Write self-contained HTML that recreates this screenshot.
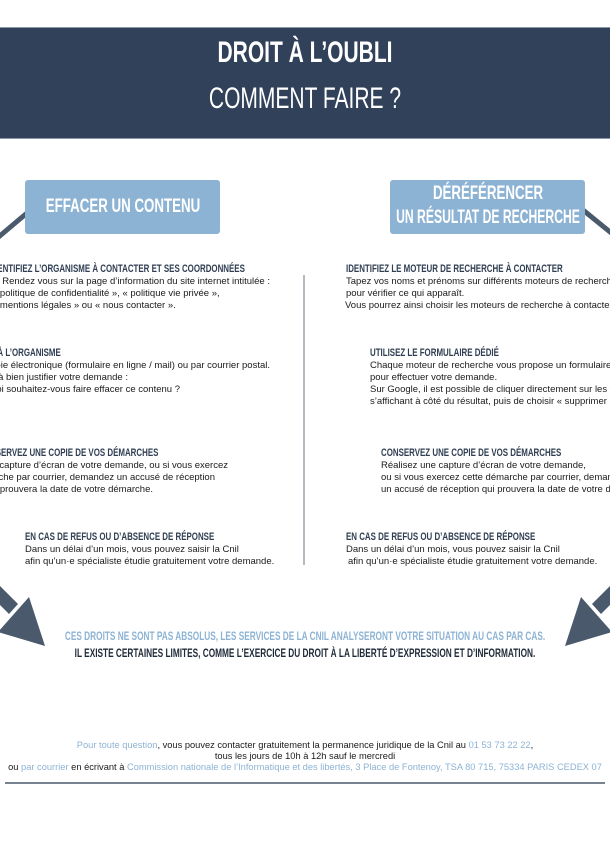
<!DOCTYPE html>
<html><head><meta charset="utf-8">
<style>
body{margin:0;width:610px;height:850px;overflow:hidden;background:#fff;position:relative;font-family:"Liberation Sans",sans-serif;}
.a{position:absolute;white-space:nowrap;}
.h{font-family:"Liberation Sans Narrow","Liberation Sans",sans-serif;font-weight:bold;font-size:11px;color:#2f3e52;transform:scaleX(0.72);}
.hl{transform-origin:left center}
.hr{transform-origin:right center}
.t{font-size:9.5px;color:#1a1a1a;line-height:12px;}
.box{position:absolute;background:#8db3d4;border-radius:3px;color:#fff;font-family:"Liberation Sans Narrow","Liberation Sans",sans-serif;font-weight:bold;white-space:nowrap;}
.cx{position:absolute;left:50%;white-space:nowrap;transform:translateX(-50%) scaleX(0.7);}
.blue{color:#8db3d4}
.ct{position:absolute;left:305px;white-space:nowrap;transform:translateX(-50%);}
</style></head><body>
<div style="position:absolute;left:0;top:27px;width:610px;height:110px;background:#31415a;border-top:1px solid #8a96a6;border-bottom:1px solid #8a96a6;"></div>
<div class="ct" style="top:36px;color:#fff;font-family:'Liberation Sans Narrow','Liberation Sans',sans-serif;font-weight:bold;font-size:30px;transform:translateX(-50%) scaleX(0.7)">DROIT À L’OUBLI</div>
<div class="ct" style="top:82px;color:#fff;font-family:'Liberation Sans Narrow','Liberation Sans',sans-serif;font-size:30px;transform:translateX(-50%) scaleX(0.7)">COMMENT FAIRE ?</div>

<svg style="position:absolute;left:0;top:0" width="610" height="850">
<line x1="27" y1="213" x2="-5" y2="240" stroke="#4a5a6c" stroke-width="5"/>
<line x1="583" y1="210" x2="615" y2="236" stroke="#4a5a6c" stroke-width="5"/>
<line x1="304" y1="275" x2="304" y2="565" stroke="#6b7685" stroke-width="1"/>
<polygon points="-10,595 0,586 18,604 9,614" fill="#4a5a6c"/>
<polygon points="29,597 45,646 -2,632" fill="#4a5a6c"/>
<polygon points="620,595 610,586 592,604 601,614" fill="#4a5a6c"/>
<polygon points="581,597 565,646 612,632" fill="#4a5a6c"/>
<line x1="5" y1="783" x2="605" y2="783" stroke="#4a5a6c" stroke-width="1.5"/>
</svg>

<div class="box" style="left:25px;top:180px;width:195px;height:54px;font-size:19px;"><div class="cx" style="top:16px">EFFACER UN CONTENU</div></div>
<div class="box" style="left:390px;top:180px;width:195px;height:54px;font-size:19px;"><div class="cx" style="top:3px">DÉRÉFÉRENCER</div><div class="cx" style="top:27px;transform:translateX(-50%) scaleX(0.64)">UN RÉSULTAT DE RECHERCHE</div></div>

<!-- left column -->
<div class="a h hr" style="right:365px;top:263px">IDENTIFIEZ L’ORGANISME À CONTACTER ET SES COORDONNÉES</div>
<div class="a t" style="right:340px;top:276px">Rendez vous sur la page d’information du site internet intitulée :</div>
<div class="a t" style="left:-8px;top:288px">« politique de confidentialité », « politique vie privée »,</div>
<div class="a t" style="left:-8px;top:300px">« mentions légales » ou « nous contacter ».</div>

<div class="a h hr" style="right:549px;top:347px">ADRESSEZ-VOUS À L’ORGANISME</div>
<div class="a t" style="right:340px;top:360px">Par voie électronique (formulaire en ligne / mail) ou par courrier postal.</div>
<div class="a t" style="right:482px;top:372px">Pensez à bien justifier votre demande :</div>
<div class="a t" style="right:430px;top:384px">Pourquoi souhaitez-vous faire effacer ce contenu ?</div>

<div class="a h hr" style="right:452px;top:447px">CONSERVEZ UNE COPIE DE VOS DÉMARCHES</div>
<div class="a t" style="right:382px;top:460px">Réalisez une capture d’écran de votre demande, ou si vous exercez</div>
<div class="a t" style="right:395px;top:472px">cette démarche par courrier, demandez un accusé de réception</div>
<div class="a t" style="right:457px;top:484px">qui prouvera la date de votre démarche.</div>

<div class="a h hl" style="left:25px;top:531px">EN CAS DE REFUS OU D’ABSENCE DE RÉPONSE</div>
<div class="a t" style="left:25px;top:544px">Dans un délai d’un mois, vous pouvez saisir la Cnil</div>
<div class="a t" style="left:25px;top:556px">afin qu’un·e spécialiste étudie gratuitement votre demande.</div>

<!-- right column -->
<div class="a h hl" style="left:346px;top:263px">IDENTIFIEZ LE MOTEUR DE RECHERCHE À CONTACTER</div>
<div class="a t" style="left:346px;top:276px">Tapez vos noms et prénoms sur différents moteurs de recherche</div>
<div class="a t" style="left:346px;top:288px">pour vérifier ce qui apparaît.</div>
<div class="a t" style="left:345px;top:300px">Vous pourrez ainsi choisir les moteurs de recherche à contacter.</div>

<div class="a h hl" style="left:370px;top:347px">UTILISEZ LE FORMULAIRE DÉDIÉ</div>
<div class="a t" style="left:370px;top:360px">Chaque moteur de recherche vous propose un formulaire</div>
<div class="a t" style="left:370px;top:372px">pour effectuer votre demande.</div>
<div class="a t" style="left:370px;top:384px">Sur Google, il est possible de cliquer directement sur les trois points</div>
<div class="a t" style="left:370px;top:396px">s’affichant à côté du résultat, puis de choisir « supprimer ».</div>

<div class="a h hl" style="left:381px;top:447px">CONSERVEZ UNE COPIE DE VOS DÉMARCHES</div>
<div class="a t" style="left:381px;top:460px">Réalisez une capture d’écran de votre demande,</div>
<div class="a t" style="left:381px;top:472px">ou si vous exercez cette démarche par courrier, demandez</div>
<div class="a t" style="left:381px;top:484px">un accusé de réception qui prouvera la date de votre démarche.</div>

<div class="a h hl" style="left:346px;top:531px">EN CAS DE REFUS OU D’ABSENCE DE RÉPONSE</div>
<div class="a t" style="left:346px;top:544px">Dans un délai d’un mois, vous pouvez saisir la Cnil</div>
<div class="a t" style="left:348px;top:556px">afin qu’un·e spécialiste étudie gratuitement votre demande.</div>

<!-- bottom -->
<div class="ct" style="top:631px;font-family:'Liberation Sans Narrow','Liberation Sans',sans-serif;font-weight:bold;font-size:11.5px;color:#8db3d4;transform:translateX(-50%) scaleX(0.72)">CES DROITS NE SONT PAS ABSOLUS, LES SERVICES DE LA CNIL ANALYSERONT VOTRE SITUATION AU CAS PAR CAS.</div>
<div class="ct" style="top:648px;font-family:'Liberation Sans Narrow','Liberation Sans',sans-serif;font-weight:bold;font-size:11.5px;color:#1f2a38;transform:translateX(-50%) scaleX(0.72)">IL EXISTE CERTAINES LIMITES, COMME L’EXERCICE DU DROIT À LA LIBERTÉ D’EXPRESSION ET D’INFORMATION.</div>

<div class="ct t" style="top:739px;font-size:9.3px;"><span class="blue">Pour toute question</span>, vous pouvez contacter gratuitement la permanence juridique de la Cnil au <span class="blue">01 53 73 22 22</span>,</div>
<div class="ct t" style="top:750px;font-size:9.3px;">tous les jours de 10h à 12h sauf le mercredi</div>
<div class="ct t" style="top:761px;font-size:9.3px;">ou <span class="blue">par courrier</span> en écrivant à <span class="blue">Commission nationale de l’Informatique et des libertés, 3 Place de Fontenoy, TSA 80 715, 75334 PARIS CEDEX 07</span></div>
</body></html>
